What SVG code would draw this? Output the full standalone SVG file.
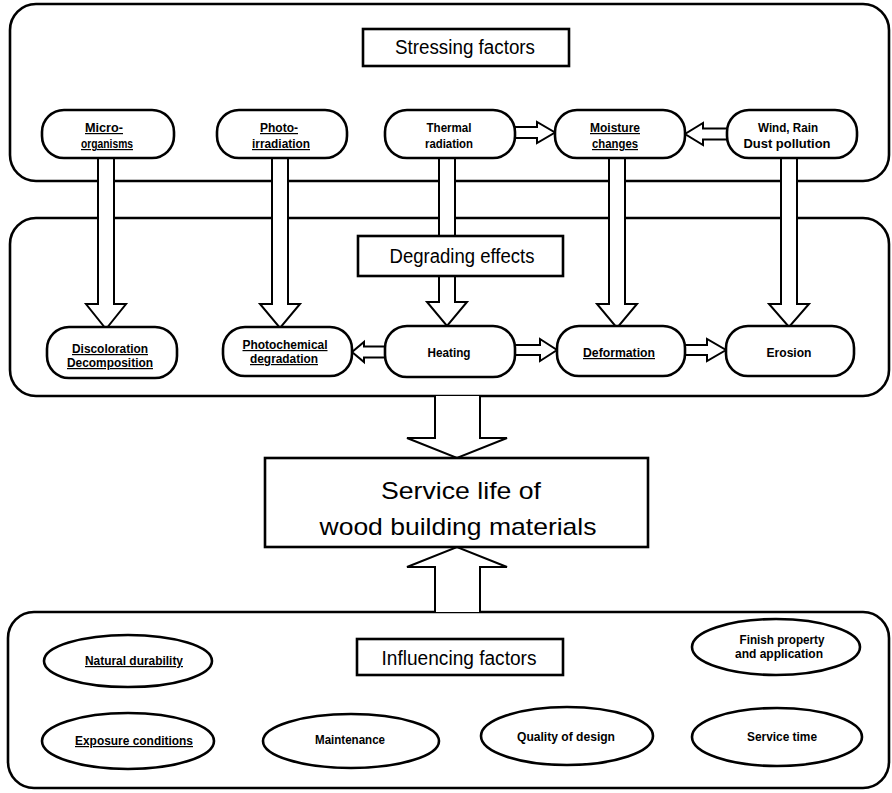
<svg xmlns="http://www.w3.org/2000/svg" width="892" height="793" viewBox="0 0 892 793">
<style>
.panel{fill:none;stroke:#000;stroke-width:2.6}
.hdr{fill:#fff;stroke:#000;stroke-width:2.6}
.node{fill:#fff;stroke:#000;stroke-width:2.6}
.arr{fill:#fff;stroke:#000;stroke-width:2;stroke-linejoin:miter}
text{font-family:"Liberation Sans Narrow","Liberation Sans",Arial,sans-serif;fill:#000;text-anchor:middle}
.lbl{font-size:12px;font-weight:bold}
.u{text-decoration:underline}
.h{font-size:20px}
.big{font-size:24px}
</style>
<rect width="892" height="793" fill="#fff"/>
<g id="panels">
<rect class="panel" x="10" y="4" width="879" height="177" rx="26"/>
<rect class="panel" x="10" y="218" width="879" height="178" rx="26"/>
<rect class="panel" x="8" y="612" width="881" height="176" rx="26"/>
</g>
<g id="connectors">
<path class="arr" d="M98,158 V304 H86 L106,329 L126,304 H114 V158 Z"/>
<path class="arr" d="M272,158 V304 H260 L280,328 L300,304 H288 V158 Z"/>
<path class="arr" d="M439,158 V302 H427 L447,326 L467,302 H455 V158 Z"/>
<path class="arr" d="M609,158 V304 H597 L617,328 L637,304 H625 V158 Z"/>
<path class="arr" d="M781,158 V304 H769 L789,327 L809,304 H797 V158 Z"/>
<path class="arr" d="M515,127 H537 V122 L555,132.5 L537,143 V138 H515 Z"/>
<path class="arr" d="M727,128.5 H703 V123 L685,134 L703,145 V139.5 H727 Z"/>
<path class="arr" d="M385,346.5 H364 V342 L352,352 L364,362 V357.5 H385 Z"/>
<path class="arr" d="M515,345 H540 V339 L557,350 L540,361 V355 H515 Z"/>
<path class="arr" d="M685,345 H707 V339 L726,350 L707,361 V355 H685 Z"/>
<path class="arr" d="M435,396 V438 H407 L457,458 L507,438 H480 V396"/>
<path class="arr" d="M435,612 V567 H407 L457,547 L507,567 H480 V612"/>
</g>
<g id="stressing-factors">
<rect class="hdr" x="363" y="29" width="206" height="37"/>
<text class="h" x="465" y="54" textLength="140" lengthAdjust="spacingAndGlyphs">Stressing factors</text>
</g>
<g id="degrading-effects">
<rect class="hdr" x="358" y="236" width="205" height="40"/>
<text class="h" x="462" y="263" textLength="145" lengthAdjust="spacingAndGlyphs">Degrading effects</text>
</g>
<g id="influencing-factors">
<rect class="hdr" x="357" y="639" width="206" height="36"/>
<text class="h" x="459" y="665" textLength="155" lengthAdjust="spacingAndGlyphs">Influencing factors</text>
</g>
<g id="micro-organisms">
<rect class="node" x="42" y="110" width="132" height="48" rx="22"/>
<text class="lbl u" x="104" y="132" textLength="38" lengthAdjust="spacingAndGlyphs">Micro-</text>
<text class="lbl u" x="107" y="148" textLength="52" lengthAdjust="spacingAndGlyphs">organisms</text>
</g>
<g id="photo-irradiation">
<rect class="node" x="217" y="110" width="130" height="48" rx="22"/>
<text class="lbl u" x="279" y="132" textLength="38" lengthAdjust="spacingAndGlyphs">Photo-</text>
<text class="lbl u" x="281" y="148" textLength="58" lengthAdjust="spacingAndGlyphs">irradiation</text>
</g>
<g id="thermal-radiation">
<rect class="node" x="385" y="110" width="130" height="48" rx="22"/>
<text class="lbl" x="449" y="132" textLength="45" lengthAdjust="spacingAndGlyphs">Thermal</text>
<text class="lbl" x="449" y="148" textLength="48" lengthAdjust="spacingAndGlyphs">radiation</text>
</g>
<g id="moisture-changes">
<rect class="node" x="555" y="110" width="130" height="48" rx="22"/>
<text class="lbl u" x="615" y="132" textLength="50" lengthAdjust="spacingAndGlyphs">Moisture</text>
<text class="lbl u" x="615" y="148" textLength="46" lengthAdjust="spacingAndGlyphs">changes</text>
</g>
<g id="wind-rain-dust">
<rect class="node" x="727" y="110" width="130" height="48" rx="22"/>
<text class="lbl" x="788" y="132" textLength="60" lengthAdjust="spacingAndGlyphs">Wind, Rain</text>
<text class="lbl" x="787" y="148" textLength="87" lengthAdjust="spacingAndGlyphs">Dust pollution</text>
</g>
<g id="discoloration-decomposition">
<rect class="node" x="47" y="327" width="130" height="51" rx="22"/>
<text class="lbl u" x="110" y="353" textLength="76" lengthAdjust="spacingAndGlyphs">Discoloration</text>
<text class="lbl u" x="110" y="367" textLength="86" lengthAdjust="spacingAndGlyphs">Decomposition</text>
</g>
<g id="photochemical-degradation">
<rect class="node" x="223" y="327" width="129" height="49" rx="22"/>
<text class="lbl u" x="285" y="349" textLength="85" lengthAdjust="spacingAndGlyphs">Photochemical</text>
<text class="lbl u" x="284" y="363" textLength="68" lengthAdjust="spacingAndGlyphs">degradation</text>
</g>
<g id="heating">
<rect class="node" x="385" y="326" width="130" height="51" rx="22"/>
<text class="lbl" x="449" y="357" textLength="43" lengthAdjust="spacingAndGlyphs">Heating</text>
</g>
<g id="deformation">
<rect class="node" x="557" y="326" width="128" height="50" rx="22"/>
<text class="lbl u" x="619" y="357" textLength="72" lengthAdjust="spacingAndGlyphs">Deformation</text>
</g>
<g id="erosion">
<rect class="node" x="726" y="326" width="128" height="50" rx="22"/>
<text class="lbl" x="789" y="357" textLength="45" lengthAdjust="spacingAndGlyphs">Erosion</text>
</g>
<g id="service-life">
<rect class="hdr" x="265" y="458" width="383" height="89"/>
<text class="big" x="461" y="499" textLength="160" lengthAdjust="spacingAndGlyphs">Service life of</text>
<text class="big" x="458" y="535" textLength="277" lengthAdjust="spacingAndGlyphs">wood building materials</text>
</g>
<g id="natural-durability">
<ellipse class="node" cx="128" cy="661" rx="84" ry="26"/>
<text class="lbl u" x="134" y="665" textLength="98" lengthAdjust="spacingAndGlyphs">Natural durability</text>
</g>
<g id="finish-property">
<ellipse class="node" cx="776" cy="647" rx="84" ry="28"/>
<text class="lbl" x="782" y="644" textLength="85" lengthAdjust="spacingAndGlyphs">Finish property</text>
<text class="lbl" x="779" y="658" textLength="88" lengthAdjust="spacingAndGlyphs">and application</text>
</g>
<g id="exposure-conditions">
<ellipse class="node" cx="128" cy="741" rx="86" ry="28"/>
<text class="lbl u" x="134" y="745" textLength="118" lengthAdjust="spacingAndGlyphs">Exposure conditions</text>
</g>
<g id="maintenance">
<ellipse class="node" cx="351" cy="741" rx="88" ry="27"/>
<text class="lbl" x="350" y="744" textLength="70" lengthAdjust="spacingAndGlyphs">Maintenance</text>
</g>
<g id="quality-of-design">
<ellipse class="node" cx="567" cy="736" rx="86" ry="29"/>
<text class="lbl" x="566" y="741" textLength="98" lengthAdjust="spacingAndGlyphs">Quality of design</text>
</g>
<g id="service-time">
<ellipse class="node" cx="777" cy="737" rx="85" ry="29"/>
<text class="lbl" x="782" y="741" textLength="70" lengthAdjust="spacingAndGlyphs">Service time</text>
</g>
</svg>
